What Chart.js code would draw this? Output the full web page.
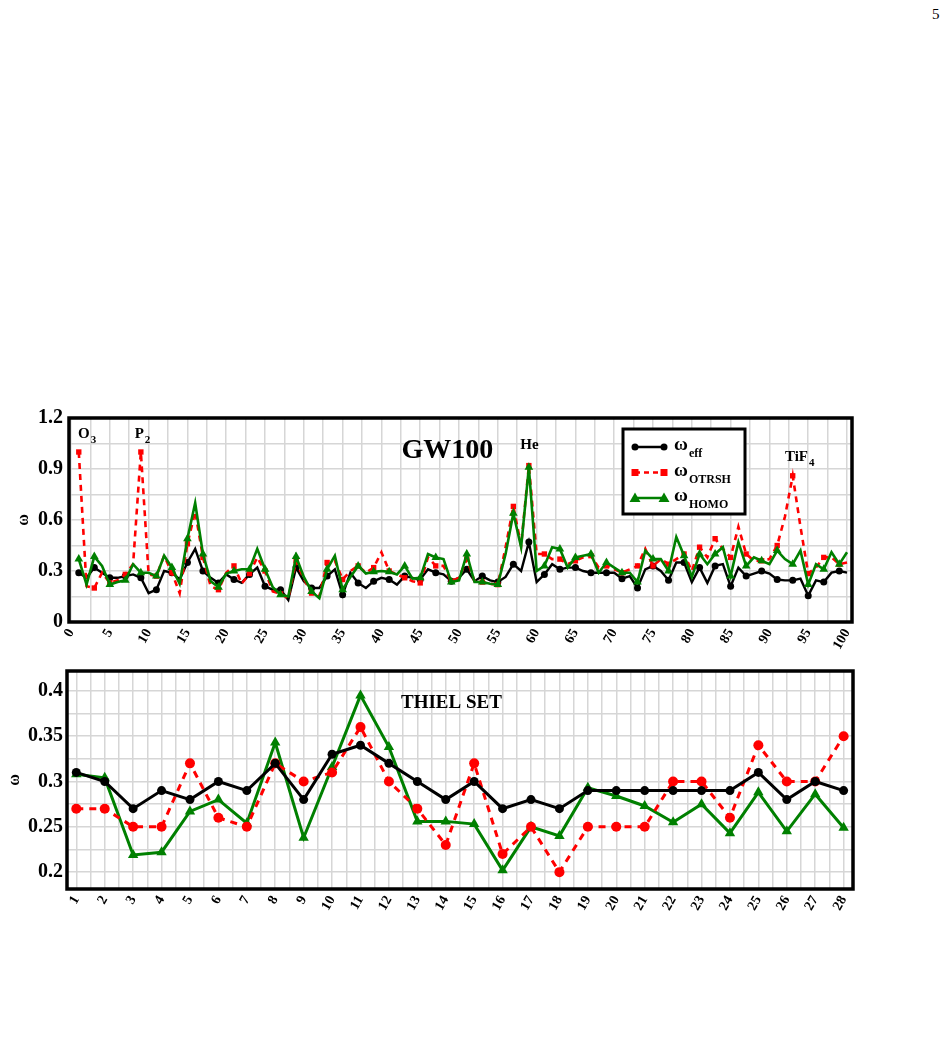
<!DOCTYPE html>
<html>
<head>
<meta charset="utf-8">
<script src="https://cdn.jsdelivr.net/npm/chart.js@4.4.0/dist/chart.umd.min.js"></script>
<style>
  body { margin: 0; background: #fff; width: 948px; height: 1055px; position: relative; overflow: hidden; font-family: 'Liberation Serif', serif; }
  #page { position: absolute; left: 932px; top: 6px; font-size: 15px; }
  canvas { position: absolute; left: 0; }
  #gw { top: 400px; }
  #thiel { top: 655px; }
</style>
</head>
<body>
<div id="page">5</div>
<canvas id="gw" width="870" height="270"></canvas>
<canvas id="thiel" width="870" height="270"></canvas>
<script>
const SERIF = "'Liberation Serif', 'DejaVu Serif', serif";

// GW100 set, molecules 1..100
const gwIndex = Array.from({ length: 100 }, (_, k) => k + 1);
const gwEff = [
  0.29, 0.26, 0.32, 0.29, 0.26, 0.26, 0.27, 0.28, 0.26, 0.17,
  0.19, 0.30, 0.29, 0.25, 0.35, 0.43, 0.30, 0.26, 0.23, 0.28,
  0.25, 0.23, 0.28, 0.32, 0.21, 0.19, 0.19, 0.13, 0.32, 0.24,
  0.20, 0.20, 0.27, 0.31, 0.16, 0.29, 0.23, 0.20, 0.24, 0.26,
  0.25, 0.22, 0.27, 0.26, 0.25, 0.31, 0.29, 0.28, 0.24, 0.26,
  0.31, 0.24, 0.27, 0.245, 0.235, 0.265, 0.34, 0.30, 0.47, 0.235,
  0.28, 0.34, 0.31, 0.32, 0.32, 0.30, 0.29, 0.29, 0.29, 0.29,
  0.255, 0.27, 0.20, 0.31, 0.33, 0.30, 0.245, 0.35, 0.35, 0.235,
  0.32, 0.23, 0.33, 0.34, 0.21, 0.32, 0.27, 0.285, 0.30, 0.285,
  0.25, 0.245, 0.245, 0.255, 0.155, 0.245, 0.235, 0.29, 0.30, 0.29
];
const gwOtrsh = [
  1.00, 0.21, 0.20, 0.29, 0.23, 0.245, 0.28, 0.34, 1.00, 0.28,
  0.27, 0.39, 0.29, 0.17, 0.46, 0.65, 0.38, 0.21, 0.19, 0.29,
  0.33, 0.225, 0.285, 0.38, 0.30, 0.18, 0.165, 0.14, 0.36, 0.255,
  0.17, 0.15, 0.35, 0.36, 0.25, 0.30, 0.33, 0.29, 0.32, 0.41,
  0.30, 0.28, 0.26, 0.24, 0.23, 0.38, 0.33, 0.33, 0.24, 0.26,
  0.37, 0.24, 0.235, 0.225, 0.22, 0.44, 0.68, 0.45, 0.92, 0.40,
  0.40, 0.37, 0.37, 0.34, 0.36, 0.38, 0.39, 0.32, 0.33, 0.31,
  0.29, 0.31, 0.33, 0.43, 0.33, 0.37, 0.34, 0.37, 0.40, 0.30,
  0.44, 0.38, 0.49, 0.43, 0.38, 0.56, 0.40, 0.36, 0.36, 0.37,
  0.45, 0.62, 0.86, 0.56, 0.285, 0.32, 0.38, 0.38, 0.34, 0.35
];
const gwHomo = [
  0.37, 0.22, 0.385, 0.33, 0.22, 0.235, 0.245, 0.34, 0.29, 0.29,
  0.27, 0.39, 0.32, 0.225, 0.49, 0.70, 0.40, 0.24, 0.205, 0.285,
  0.30, 0.31, 0.31, 0.43, 0.31, 0.205, 0.16, 0.15, 0.385, 0.265,
  0.18, 0.14, 0.31, 0.39, 0.19, 0.265, 0.33, 0.285, 0.295, 0.30,
  0.295, 0.28, 0.33, 0.255, 0.26, 0.40, 0.38, 0.37, 0.235, 0.245,
  0.40, 0.235, 0.235, 0.225, 0.22, 0.40, 0.64, 0.44, 0.91, 0.30,
  0.33, 0.44, 0.43, 0.32, 0.38, 0.39, 0.40, 0.29, 0.35, 0.32,
  0.29, 0.29, 0.235, 0.42, 0.37, 0.37, 0.30, 0.50, 0.39, 0.265,
  0.40, 0.34, 0.40, 0.44, 0.27, 0.47, 0.33, 0.38, 0.36, 0.34,
  0.42, 0.37, 0.34, 0.42, 0.22, 0.34, 0.31, 0.41, 0.34, 0.41
];

// Thiel set, molecules 1..28
const thielIndex = Array.from({ length: 28 }, (_, k) => k + 1);
const thielEff = [0.31, 0.30, 0.27, 0.29, 0.28, 0.30, 0.29, 0.32, 0.28, 0.33, 0.34, 0.32, 0.30, 0.28,
                  0.30, 0.27, 0.28, 0.27, 0.29, 0.29, 0.29, 0.29, 0.29, 0.29, 0.31, 0.28, 0.30, 0.29];
const thielOtrsh = [0.27, 0.27, 0.25, 0.25, 0.32, 0.26, 0.25, 0.32, 0.30, 0.31, 0.36, 0.30, 0.27, 0.23,
                    0.32, 0.22, 0.25, 0.20, 0.25, 0.25, 0.25, 0.30, 0.30, 0.26, 0.34, 0.30, 0.30, 0.35];
const thielHomo = [0.308, 0.304, 0.219, 0.222, 0.267, 0.280, 0.254, 0.343, 0.238, 0.316, 0.395, 0.338, 0.256, 0.256,
                   0.253, 0.202, 0.250, 0.240, 0.293, 0.284, 0.273, 0.255, 0.275, 0.243, 0.288, 0.245, 0.286, 0.249];

// annotations on the GW100 panel
const gwNotes = [
  { x: 0.9, y: 1.085, text: 'O', sub: '3' },
  { x: 8.2, y: 1.085, text: 'P', sub: '2' },
  { x: 57.9, y: 1.02, text: 'He', sub: '' },
  { x: 92.0, y: 0.945, text: 'TiF', sub: '4' }
];

const legendItems = [
  { sub: 'eff', color: '#000', dash: [], style: 'circle' },
  { sub: 'OTRSH', color: '#ff0000', dash: [5, 4], style: 'rect' },
  { sub: 'HOMO', color: '#008000', dash: [], style: 'triangle' }
];

function steps(from, to, step) {
  const out = [];
  for (let v = from; v <= to + 1e-9; v += step) out.push(Math.round(v * 1000) / 1000);
  return out;
}

function isMultiple(v, m) {
  const k = v / m;
  return Math.abs(k - Math.round(k)) < 1e-6;
}

function drawMarker(ctx, style, x, y, r, color) {
  ctx.fillStyle = color;
  ctx.beginPath();
  if (style === 'circle') {
    ctx.arc(x, y, r, 0, Math.PI * 2);
  } else if (style === 'rect') {
    ctx.rect(x - r, y - r, 2 * r, 2 * r);
  } else {
    ctx.moveTo(x, y - r * 1.1);
    ctx.lineTo(x + r * 1.1, y + r * 0.8);
    ctx.lineTo(x - r * 1.1, y + r * 0.8);
    ctx.closePath();
  }
  ctx.fill();
}

function drawSub(ctx, x, y, main, sub, size, subSize, drop) {
  ctx.textAlign = 'left';
  ctx.textBaseline = 'alphabetic';
  ctx.font = 'bold ' + size + 'px ' + SERIF;
  ctx.fillText(main, x, y);
  const w = ctx.measureText(main).width;
  if (sub) {
    ctx.font = 'bold ' + subSize + 'px ' + SERIF;
    ctx.fillText(sub, x + w + 1, y + drop);
  }
}

const panelPlugin = {
  id: 'panel',
  afterDraw(chart) {
    const o = chart.options.plugins.panel;
    const ctx = chart.ctx;
    const a = chart.chartArea;
    const xs = chart.scales.x, ys = chart.scales.y;
    ctx.save();
    // thick frame
    ctx.strokeStyle = '#000';
    ctx.lineWidth = 3.5;
    ctx.strokeRect(a.left, a.top, a.right - a.left, a.bottom - a.top);

    ctx.fillStyle = '#000';
    // title inside the plot
    ctx.font = 'bold ' + o.titleSize + 'px ' + SERIF;
    ctx.textAlign = 'center';
    ctx.textBaseline = 'alphabetic';
    ctx.fillText(o.title, xs.getPixelForValue(o.titleX), ys.getPixelForValue(o.titleY));

    // y axis symbol
    ctx.save();
    ctx.translate(a.left - o.omegaOffset, (a.top + a.bottom) / 2);
    ctx.rotate(-Math.PI / 2);
    ctx.font = 'bold 16px ' + SERIF;
    ctx.textAlign = 'center';
    ctx.textBaseline = 'middle';
    ctx.fillText('ω', 0, 0);
    ctx.restore();

    (o.notes || []).forEach(n => {
      ctx.fillStyle = '#000';
      drawSub(ctx, xs.getPixelForValue(n.x), ys.getPixelForValue(n.y), n.text, n.sub, 15, 11, 5);
    });

    if (o.legend) {
      const bx = a.left + 554, by = a.top + 11, bw = 122, bh = 85;
      ctx.fillStyle = '#fff';
      ctx.fillRect(bx, by, bw, bh);
      ctx.lineWidth = 3;
      ctx.strokeStyle = '#000';
      ctx.strokeRect(bx, by, bw, bh);
      legendItems.forEach((it, k) => {
        const ly = by + 18 + k * 25.5;
        ctx.strokeStyle = it.color;
        ctx.lineWidth = 2.5;
        ctx.setLineDash(it.dash);
        ctx.beginPath();
        ctx.moveTo(bx + 12, ly);
        ctx.lineTo(bx + 41, ly);
        ctx.stroke();
        ctx.setLineDash([]);
        const r = it.style === 'triangle' ? 5 : 3.5;
        drawMarker(ctx, it.style, bx + 12, ly, r, it.color);
        drawMarker(ctx, it.style, bx + 41, ly, r, it.color);
        ctx.fillStyle = '#000';
        drawSub(ctx, bx + 51, ly + 3, 'ω', it.sub, 19, 12, 7);
      });
    }
    ctx.restore();
  }
};

function series(xsArr, ysArr) {
  return xsArr.map((x, k) => ({ x: x, y: ysArr[k] }));
}

function makeChart(id, cfg) {
  const tickFont = { family: SERIF, weight: 'bold', size: 20 };
  return new Chart(document.getElementById(id), {
    type: 'line',
    data: { datasets: cfg.datasets },
    plugins: [panelPlugin],
    options: {
      responsive: false,
      animation: false,
      events: [],
      layout: { padding: { left: 0, right: cfg.padRight, top: 14, bottom: 0 } },
      plugins: {
        legend: { display: false },
        tooltip: { enabled: false },
        panel: cfg.panel
      },
      scales: {
        x: {
          type: 'linear',
          min: cfg.xMin,
          max: cfg.xMax,
          afterBuildTicks: s => { s.ticks = cfg.xGrid.map(v => ({ value: v })); },
          afterFit: s => { s.height = cfg.xHeight; },
          grid: { color: '#d6d6d6', lineWidth: 1.5, drawTicks: false },
          border: { display: false },
          ticks: {
            autoSkip: false,
            minRotation: 60,
            maxRotation: 60,
            padding: 4,
            color: '#000',
            font: { family: SERIF, weight: 'bold', size: 14 },
            callback: v => (isMultiple(v, cfg.xLabelStep) ? String(Math.round(v)) : '')
          }
        },
        y: {
          min: cfg.yMin,
          max: cfg.yMax,
          afterBuildTicks: s => { s.ticks = cfg.yGrid.map(v => ({ value: v })); },
          afterFit: s => { s.width = cfg.yWidth; },
          grid: { color: '#d6d6d6', lineWidth: 1.5, drawTicks: false },
          border: { display: false },
          ticks: {
            autoSkip: false,
            padding: cfg.yPad,
            color: '#000',
            font: tickFont,
            callback: v => (isMultiple(v, cfg.yLabelStep) ? String(parseFloat(v.toFixed(2))) : '')
          }
        }
      }
    }
  });
}

const sparse = r => c => (c.dataIndex % 2 === 0 ? r : 0);

makeChart('gw', {
  padRight: 18,
  xMin: -0.26, xMax: 100.64, xGrid: steps(0, 100, 2.5), xLabelStep: 5, xHeight: 48,
  yMin: 0, yMax: 1.2, yGrid: steps(0, 1.2, 0.15), yLabelStep: 0.3, yWidth: 69, yPad: 6,
  panel: { title: 'GW100', titleSize: 28, titleX: 48.5, titleY: 0.965, omegaOffset: 45, notes: gwNotes, legend: true },
  datasets: [
    { data: series(gwIndex, gwHomo), borderColor: '#008000', backgroundColor: '#008000', borderWidth: 2.6,
      pointStyle: 'triangle', pointRadius: sparse(5), pointBorderWidth: 0, tension: 0, order: 0 },
    { data: series(gwIndex, gwOtrsh), borderColor: '#ff0000', backgroundColor: '#ff0000', borderWidth: 2.6,
      borderDash: [6, 5], pointStyle: 'rect', pointRadius: sparse(3.8), pointBorderWidth: 0, tension: 0, order: 1 },
    { data: series(gwIndex, gwEff), borderColor: '#000', backgroundColor: '#000', borderWidth: 2.4,
      pointStyle: 'circle', pointRadius: sparse(3.5), pointBorderWidth: 0, tension: 0, order: 2 }
  ]
});

makeChart('thiel', {
  padRight: 17,
  xMin: 0.673, xMax: 28.33, xGrid: steps(1, 28, 0.5), xLabelStep: 1, xHeight: 36,
  yMin: 0.1814, yMax: 0.4219, yGrid: steps(0.2, 0.4, 0.025), yLabelStep: 0.05, yWidth: 67, yPad: 4,
  panel: { title: 'THIEL SET', titleSize: 19, titleX: 14.2, titleY: 0.381, omegaOffset: 52, notes: [], legend: false },
  datasets: [
    { data: series(thielIndex, thielHomo), borderColor: '#008000', backgroundColor: '#008000', borderWidth: 3,
      pointStyle: 'triangle', pointRadius: 6, pointBorderWidth: 0, tension: 0, order: 2 },
    { data: series(thielIndex, thielOtrsh), borderColor: '#ff0000', backgroundColor: '#ff0000', borderWidth: 3,
      borderDash: [7, 6], pointStyle: 'circle', pointRadius: 5, pointBorderWidth: 0, tension: 0, order: 1 },
    { data: series(thielIndex, thielEff), borderColor: '#000', backgroundColor: '#000', borderWidth: 3,
      pointStyle: 'circle', pointRadius: 4.5, pointBorderWidth: 0, tension: 0, order: 0 }
  ]
});
</script>
</body>
</html>
